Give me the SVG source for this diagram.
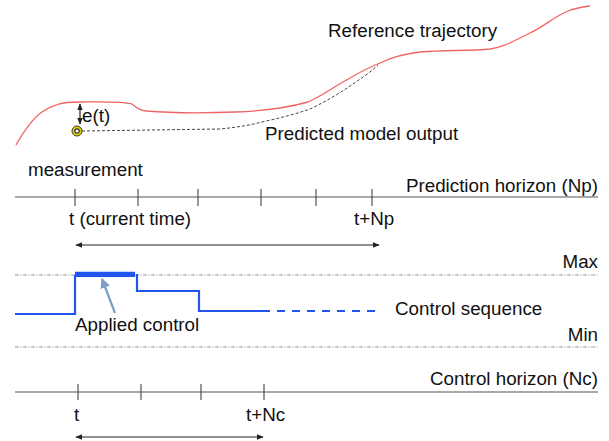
<svg xmlns="http://www.w3.org/2000/svg" width="609" height="441" viewBox="0 0 609 441">
<defs>
<marker id="ah" viewBox="0 0 10 10" refX="9" refY="5" markerWidth="7" markerHeight="7" orient="auto-start-reverse" markerUnits="userSpaceOnUse">
<path d="M0,1 L10,5 L0,9 z" fill="#222"/>
</marker>
<marker id="ahb" viewBox="0 0 10 10" refX="9" refY="5" markerWidth="10" markerHeight="10" orient="auto" markerUnits="userSpaceOnUse">
<path d="M0,0 L10,5 L0,10 z" fill="#7a9ec4"/>
</marker>
<style>
text{font-family:"Liberation Sans",Arial,sans-serif;font-size:18.8px;fill:#111}
.axis{stroke:#555;stroke-width:1.2;fill:none}
.tick{stroke:#444;stroke-width:1.1}
.lim{stroke:#999;stroke-width:1;stroke-dasharray:4,1.5,1,1.5;fill:none}
.dbl{stroke:#222;stroke-width:1.2;fill:none;marker-start:url(#ah);marker-end:url(#ah)}
.ctl{stroke:#2255ee;stroke-width:2.2;fill:none}
</style>
</defs>
<rect width="609" height="441" fill="#fff"/>

<g id="reference">
<path d="M16,145 C24,131 32,119 42,112 C52,105 62,102 79,102 C100,102 120,101 132,104 C136,107 138,110 146,111 C170,113 210,113 236,112 C262,111 290,107 308,102 C322,96 335,86 350,78 C362,71 370,67 380,63 C392,57 402,54 420,52 C445,50 470,51 490,49 C505,47 515,40 530,33 C545,26 555,16 568,11 C575,8 582,7 590,6" fill="none" stroke="#f06464" stroke-width="1.3"/>
<text x="328" y="37">Reference trajectory</text>
</g>

<g id="predicted">
<path d="M82,131 L220,129 C240,127 250,125 262,122 C280,118 296,114 310,109 C325,102 340,93 350,86 C360,79 370,73 378,65" fill="none" stroke="#444" stroke-width="1" stroke-dasharray="3,2"/>
<text x="265" y="140">Predicted model output</text>
</g>

<g id="measurement">
<circle cx="77" cy="131" r="5" fill="#e3d400" stroke="#333" stroke-width="1"/>
<circle cx="77" cy="131" r="2.2" fill="#fff" stroke="#333" stroke-width="1.2"/>
<line x1="80" y1="104" x2="80" y2="124" class="dbl" stroke-width="1"/>
<text x="82" y="122">e(t)</text>
<text x="28" y="176">measurement</text>
</g>

<g id="prediction-horizon">
<line x1="15" y1="197" x2="598" y2="197" class="axis"/>
<g class="tick">
<line x1="75" y1="189" x2="75" y2="206"/>
<line x1="138" y1="189" x2="138" y2="206"/>
<line x1="198" y1="189" x2="198" y2="206"/>
<line x1="261" y1="189" x2="261" y2="206"/>
<line x1="316" y1="189" x2="316" y2="206"/>
<line x1="372" y1="189" x2="372" y2="206"/>
</g>
<text x="598" y="192" text-anchor="end">Prediction horizon (Np)</text>
<text x="69" y="225">t (current time)</text>
<text x="354" y="225">t+Np</text>
<line x1="76" y1="245" x2="379" y2="245" class="dbl"/>
</g>

<g id="limits">
<text x="598" y="268" text-anchor="end">Max</text>
<line x1="15" y1="275" x2="598" y2="275" class="lim"/>
<text x="598" y="341" text-anchor="end">Min</text>
<line x1="15" y1="347" x2="598" y2="347" class="lim"/>
</g>

<g id="control-sequence">
<path d="M15,314 L75,314 L75,276 L135,276" class="ctl"/>
<line x1="75" y1="274" x2="135" y2="274" stroke="#2255ee" stroke-width="4.5"/>
<path d="M137,274 L137,291 L199,291 L199,311 L262,311" class="ctl"/>
<line x1="262" y1="311" x2="376" y2="311" class="ctl" stroke-dasharray="8,7"/>
<text x="395" y="315">Control sequence</text>
</g>

<g id="applied-control">
<line x1="115" y1="313" x2="102" y2="279" stroke="#7a9ec4" stroke-width="2.2" marker-end="url(#ahb)"/>
<text x="75" y="331">Applied control</text>
</g>

<g id="control-horizon">
<line x1="15" y1="392" x2="598" y2="392" class="axis"/>
<g class="tick">
<line x1="78" y1="384" x2="78" y2="400"/>
<line x1="141" y1="384" x2="141" y2="400"/>
<line x1="201" y1="384" x2="201" y2="400"/>
<line x1="264" y1="384" x2="264" y2="400"/>
</g>
<text x="598" y="385" text-anchor="end">Control horizon (Nc)</text>
<text x="74" y="421">t</text>
<text x="246" y="421">t+Nc</text>
<line x1="76" y1="437" x2="263" y2="437" class="dbl"/>
</g>
</svg>
